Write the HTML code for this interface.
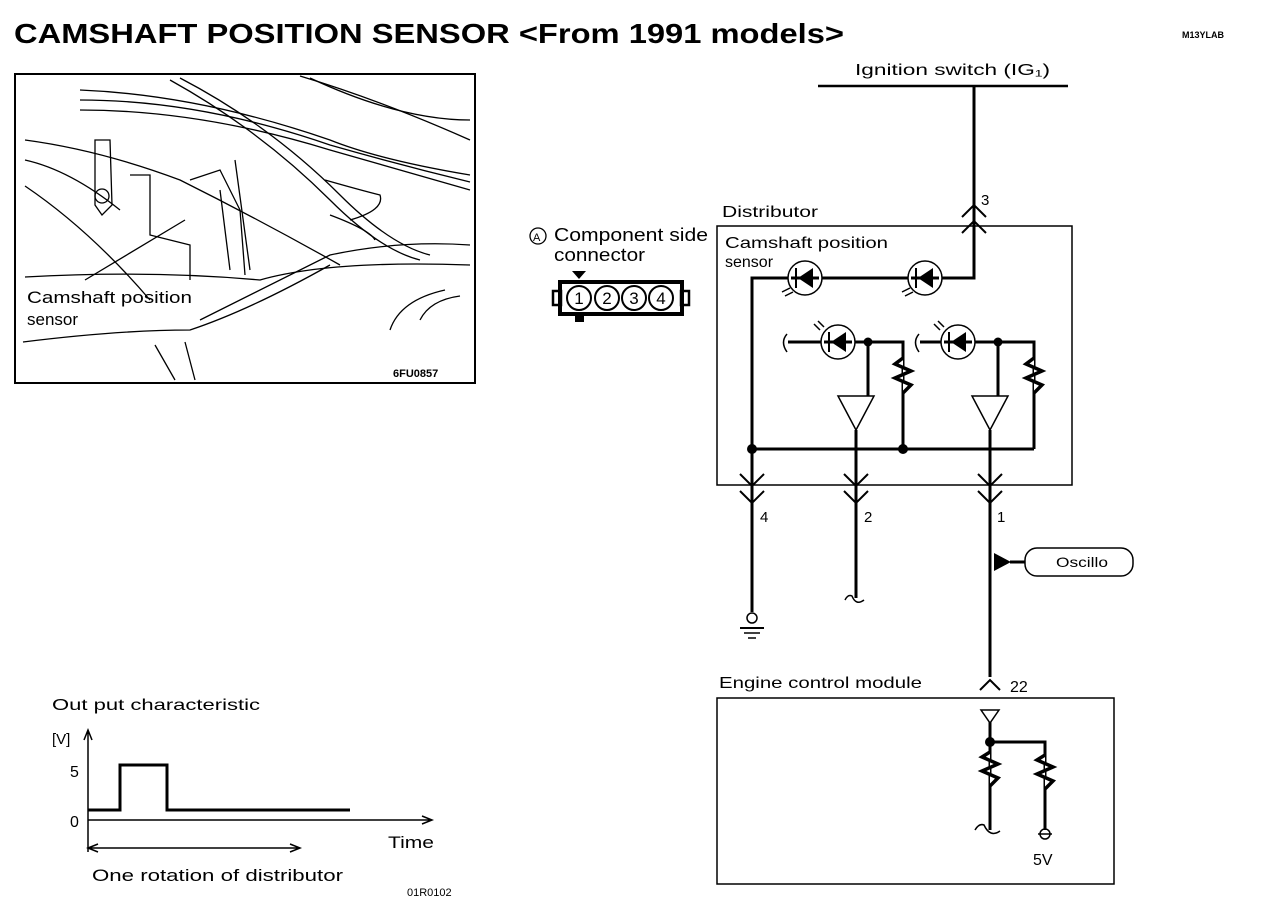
<!DOCTYPE html>
<html><head><meta charset="utf-8"><style>
body{margin:0;background:#fff}
svg{display:block}
text{font-family:"Liberation Sans",sans-serif;fill:#000}
</style></head><body>
<svg width="1264" height="912" viewBox="0 0 1264 912" xmlns="http://www.w3.org/2000/svg">
<text x="14" y="43" font-size="28" font-weight="bold" textLength="830" lengthAdjust="spacingAndGlyphs">CAMSHAFT POSITION SENSOR &lt;From 1991 models&gt;</text>
<text x="1182" y="38" font-size="9" font-weight="bold">M13YLAB</text>

<!-- photo -->
<g fill="none" stroke="#000" stroke-width="1.3">
<rect x="15" y="74" width="460" height="309" stroke-width="2"/>
<path d="M80 90 Q200 95 330 140 Q380 160 470 175"/>
<path d="M80 100 Q200 100 330 145 Q400 165 470 182"/>
<path d="M80 110 Q200 110 330 150 Q400 170 470 190"/>
<path d="M170 80 Q260 130 330 200 Q380 250 420 260"/>
<path d="M180 78 Q270 125 340 195 Q390 245 430 255"/>
<path d="M300 76 Q380 100 470 140"/>
<path d="M310 78 Q400 120 470 120"/>
<path d="M25 140 Q100 150 180 180 Q260 220 340 265"/>
<path d="M25 160 Q70 170 120 210"/>
<path d="M25 186 Q90 230 150 300"/>
<path d="M25 277 Q150 270 260 280 Q330 260 470 265"/>
<path d="M200 320 Q260 290 330 255 Q400 240 470 245"/>
<path d="M23 342 Q120 330 190 330 Q250 310 330 265"/>
<path d="M95 140 L110 140 L112 205 L102 215 L95 205 Z"/>
<circle cx="102" cy="196" r="7"/>
<path d="M130 175 L150 175 L150 235 L190 245 L190 280"/>
<path d="M190 180 L220 170 L240 210 L245 275"/>
<path d="M325 180 Q360 190 380 195 Q385 210 350 220"/>
<path d="M330 215 Q370 230 375 240"/>
<path d="M85 280 L185 220"/>
<path d="M220 190 L230 270 M235 160 L250 270"/>
<path d="M390 330 Q400 300 445 290"/>
<path d="M420 320 Q430 300 460 296"/>
<path d="M185 342 L195 380 M155 345 L175 380"/>
</g>
<text x="27" y="303" font-size="17" textLength="165" lengthAdjust="spacingAndGlyphs">Camshaft position</text>
<text x="27" y="325" font-size="17">sensor</text>
<text x="393" y="377" font-size="11" font-weight="bold">6FU0857</text>

<!-- connector -->
<circle cx="538" cy="236" r="8" fill="none" stroke="#000" stroke-width="1.3"/>
<text x="533" y="241" font-size="11">A</text>
<text x="554" y="241" font-size="18" textLength="154" lengthAdjust="spacingAndGlyphs">Component side</text>
<text x="554" y="261" font-size="18" textLength="91" lengthAdjust="spacingAndGlyphs">connector</text>
<rect x="560" y="282" width="122" height="32" fill="none" stroke="#000" stroke-width="4"/>
<rect x="553" y="291" width="8" height="14" fill="none" stroke="#000" stroke-width="2.5"/>
<rect x="681" y="291" width="8" height="14" fill="none" stroke="#000" stroke-width="2.5"/>
<path d="M572 271 L586 271 L579 279 Z" fill="#000"/>
<rect x="575" y="314" width="9" height="8" fill="#000"/>
<g fill="#fff" stroke="#000" stroke-width="2">
<circle cx="579" cy="298" r="12"/><circle cx="607" cy="298" r="12"/><circle cx="634" cy="298" r="12"/><circle cx="661" cy="298" r="12"/>
</g>
<g font-size="17" text-anchor="middle"><text x="579" y="304">1</text><text x="607" y="304">2</text><text x="634" y="304">3</text><text x="661" y="304">4</text></g>

<!-- circuit -->
<text x="855" y="75" font-size="16" textLength="195" lengthAdjust="spacingAndGlyphs">Ignition switch (IG₁)</text>
<g fill="none" stroke="#000">
<line x1="818" y1="86" x2="1068" y2="86" stroke-width="2.5"/>
<rect x="717" y="226" width="355" height="259" stroke-width="1.5"/>
<rect x="717" y="698" width="397" height="186" stroke-width="1.5"/>
<g stroke-width="3">
<path d="M974 86 L974 278 L752 278 L752 612"/>
<path d="M752 449 L1034 449"/>
<path d="M788 342 L903 342 L903 449"/>
<path d="M920 342 L1034 342 L1034 449"/>
<path d="M868 342 L868 397"/>
<path d="M998 342 L998 397"/>
<path d="M856 430 L856 598"/>
<path d="M990 430 L990 677"/>
<path d="M990 722 L990 830"/>
<path d="M990 742 L1045 742 L1045 830"/>
<path d="M1010 562 L1025 562"/>
</g>
<g stroke-width="3.5" fill="#fff">
<path d="M903 358 L895 364 L911 371 L895 378 L911 385 L903 393"/>
<path d="M1034 358 L1026 364 L1042 371 L1026 378 L1042 385 L1034 393"/>
<path d="M990 752 L982 757 L998 764 L982 771 L998 778 L990 786"/>
<path d="M1045 755 L1037 760 L1053 767 L1037 774 L1053 781 L1045 789"/>
</g>
<g stroke-width="1.5" fill="#fff">
<circle cx="805" cy="278" r="17"/><circle cx="925" cy="278" r="17"/>
<circle cx="838" cy="342" r="17"/><circle cx="958" cy="342" r="17"/>
</g>
<g stroke-width="3"><line x1="791" y1="278" x2="819" y2="278"/><line x1="911" y1="278" x2="939" y2="278"/><line x1="824" y1="342" x2="852" y2="342"/><line x1="944" y1="342" x2="972" y2="342"/></g>
<g stroke-width="1.5" fill="#fff">
<path d="M838 396 L874 396 L856 430 Z"/>
<path d="M972 396 L1008 396 L990 430 Z"/>
<path d="M981 710 L999 710 L990 723 Z"/>
</g>
<g stroke-width="2">
<path d="M962 217 L974 205 L986 217 M962 233 L974 221 L986 233"/>
<path d="M740 474 L752 486 L764 474 M740 491 L752 503 L764 491"/>
<path d="M844 474 L856 486 L868 474 M844 491 L856 503 L868 491"/>
<path d="M978 474 L990 486 L1002 474 M978 491 L990 503 L1002 491"/>
<path d="M980 690 L990 680 L1000 690"/>
</g>
<g stroke-width="1.5">
<path d="M845 600 Q848 594 852 596 Q856 606 864 600"/>
<path d="M975 830 Q979 823 984 825 Q990 838 1000 831"/>
<path d="M787 334 Q780 342 787 352"/>
<path d="M919 334 Q912 342 919 352"/>
<circle cx="752" cy="618" r="5"/>
<line x1="740" y1="628" x2="764" y2="628" stroke-width="2"/>
<line x1="744" y1="633" x2="760" y2="633"/>
<line x1="748" y1="638" x2="756" y2="638"/>
<circle cx="1045" cy="834" r="5"/><line x1="1038" y1="834" x2="1052" y2="834"/>
<rect x="1025" y="548" width="108" height="28" rx="12"/>
<path d="M782 292 L790 288 M785 296 L793 292 M902 292 L910 288 M905 296 L913 292"/>
<path d="M814 324 L820 330 M818 321 L824 327 M934 324 L940 330 M938 321 L944 327"/>
</g>
</g>
<g fill="#000">
<path d="M813 268 L813 288 L798 278 Z"/><rect x="795" y="268" width="2" height="20"/>
<path d="M933 268 L933 288 L918 278 Z"/><rect x="915" y="268" width="2" height="20"/>
<path d="M846 332 L846 352 L831 342 Z"/><rect x="828" y="332" width="2" height="20"/>
<path d="M966 332 L966 352 L951 342 Z"/><rect x="948" y="332" width="2" height="20"/>
<circle cx="868" cy="342" r="4.5"/><circle cx="998" cy="342" r="4.5"/>
<circle cx="752" cy="449" r="5"/><circle cx="903" cy="449" r="5"/>
<circle cx="990" cy="742" r="5"/>
<path d="M994 553 L994 571 L1011 562 Z"/>
</g>
<text x="722" y="217" font-size="16" textLength="96" lengthAdjust="spacingAndGlyphs">Distributor</text>
<text x="725" y="248" font-size="16" textLength="163" lengthAdjust="spacingAndGlyphs">Camshaft position</text>
<text x="725" y="267" font-size="16">sensor</text>
<text x="981" y="205" font-size="15">3</text>
<text x="760" y="522" font-size="15">4</text>
<text x="864" y="522" font-size="15">2</text>
<text x="997" y="522" font-size="15">1</text>
<text x="1056" y="567" font-size="14" textLength="52" lengthAdjust="spacingAndGlyphs">Oscillo</text>
<text x="719" y="688" font-size="16" textLength="203" lengthAdjust="spacingAndGlyphs">Engine control module</text>
<text x="1010" y="692" font-size="16">22</text>
<text x="1033" y="865" font-size="16">5V</text>

<!-- graph -->
<text x="52" y="710" font-size="16" textLength="208" lengthAdjust="spacingAndGlyphs">Out put characteristic</text>
<text x="52" y="744" font-size="15">[V]</text>
<text x="70" y="777" font-size="16">5</text>
<text x="70" y="827" font-size="16">0</text>
<g fill="none" stroke="#000">
<path d="M88 852 L88 730 M84 740 L88 730 L92 740" stroke-width="1.5"/>
<path d="M88 820 L432 820 M422 816 L432 820 L422 824" stroke-width="1.5"/>
<path d="M88 810 L120 810 L120 765 L167 765 L167 810 L350 810" stroke-width="3"/>
<path d="M88 848 L300 848 M98 844 L88 848 L98 852 M290 844 L300 848 L290 852" stroke-width="1.5"/>
</g>
<text x="388" y="848" font-size="17" textLength="46" lengthAdjust="spacingAndGlyphs">Time</text>
<text x="92" y="881" font-size="17" textLength="251" lengthAdjust="spacingAndGlyphs">One rotation of distributor</text>
<text x="407" y="896" font-size="11">01R0102</text>
</svg>
</body></html>
